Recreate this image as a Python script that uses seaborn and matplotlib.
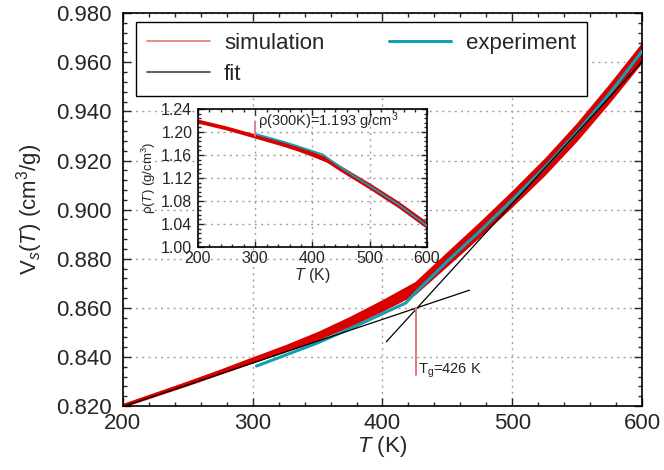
import matplotlib
matplotlib.use("Agg")
import matplotlib.pyplot as plt
import seaborn as sns
import pandas as pd
from matplotlib.lines import Line2D
from matplotlib.ticker import MultipleLocator, FormatStrFormatter

sns.set_style("ticks")
plt.rcParams["font.family"] = ["Liberation Sans", "DejaVu Sans"]
plt.rcParams["mathtext.fontset"] = "custom"
plt.rcParams["mathtext.rm"] = "Liberation Sans"
plt.rcParams["mathtext.it"] = "Liberation Sans:italic"

# ── data ──────────────────────────────────────────────────────────────────────
T_sim = [200, 225, 250, 275, 300, 325, 350, 375, 400, 425, 450, 475, 500, 525, 550, 575, 600]
V_sim = [0.8203, 0.8248, 0.8293, 0.8340, 0.8388, 0.8435, 0.8486, 0.8545, 0.8610,
         0.8680, 0.8800, 0.8920, 0.9045, 0.9175, 0.9318, 0.9475, 0.9640]
V_spread = [0.0008, 0.0009, 0.0010, 0.0011, 0.0013, 0.0015, 0.0018, 0.0021, 0.0024,
            0.0027, 0.0030, 0.0032, 0.0034, 0.0036, 0.0038, 0.0040, 0.0042]

T_exp = [303, 325, 350, 375, 400, 418, 425, 450, 475, 500, 525, 550, 575, 600]
V_exp = [0.8363, 0.8407, 0.8457, 0.8515, 0.8576, 0.8620, 0.8660, 0.8790, 0.8912,
         0.9040, 0.9172, 0.9316, 0.9473, 0.9645]

fit_lo_T = [200, 467]
fit_lo_V = [0.8198, 0.8672]
fit_hi_T = [403, 600]
fit_hi_V = [0.8462, 0.9603]

Tg = 426
Tg_V = [0.8598, 0.8326]

rho_sim = [1.219, 1.213, 1.207, 1.200, 1.193, 1.186, 1.179, 1.171, 1.162,
           1.152, 1.136, 1.121, 1.106, 1.090, 1.074, 1.056, 1.038]
rho_spread = [0.0035, 0.0035, 0.0035, 0.0035, 0.0037, 0.0039, 0.0041, 0.0043, 0.0045,
              0.0047, 0.005, 0.0052, 0.0054, 0.0056, 0.0058, 0.006, 0.006]
T_rho_exp = [303, 350, 400, 418, 450, 500, 550, 600]
rho_exp = [1.196, 1.183, 1.167, 1.161, 1.138, 1.106, 1.074, 1.037]
rho300 = [1.193, 1.218]

RED = "#d90000"
RED_LIGHT = "#e97777"
CYAN = "#0fa0b4"

sim = pd.DataFrame({"T": T_sim, "V": V_sim, "dV": V_spread,
                    "rho": rho_sim, "drho": rho_spread})
exp = pd.DataFrame({"T": T_exp, "V": V_exp})
exp_rho = pd.DataFrame({"T": T_rho_exp, "rho": rho_exp})


def style_axes(ax, size, major_len, minor_len):
    ax.tick_params(which="both", direction="in", top=True, right=True,
                   labelsize=size, width=1)
    ax.tick_params(which="major", length=major_len)
    ax.tick_params(which="minor", length=minor_len)
    ax.grid(True, which="major", color="#a0a0a0", ls=(0, (1.5, 3)), lw=1)
    for s in ax.spines.values():
        s.set_color("black")
        s.set_linewidth(1.2)


fig = plt.figure(figsize=(6.64, 4.70), dpi=100)
ax = fig.add_axes([0.185, 0.136, 0.782, 0.836])

ax.fill_between(sim["T"], sim["V"] - sim["dV"], sim["V"] + sim["dV"],
                color=RED, lw=0, zorder=2)
sns.lineplot(data=sim, x="T", y="V", ax=ax, color=RED, lw=1.5, zorder=2)
sns.lineplot(data=exp, x="T", y="V", ax=ax, color=CYAN, lw=2.2, zorder=3)
ax.plot(fit_lo_T, fit_lo_V, color="black", lw=0.9, zorder=4)
ax.plot(fit_hi_T, fit_hi_V, color="black", lw=0.9, zorder=4)
ax.plot([Tg, Tg], Tg_V, color=RED_LIGHT, lw=1.4, zorder=4)
ax.text(Tg + 1, Tg_V[1] + 0.0006, r"T$_{\rm g}$=426 K", fontsize=10.5,
        va="baseline", ha="left")

ax.set_xlim(200, 600)
ax.set_ylim(0.82, 0.98)
ax.xaxis.set_major_locator(MultipleLocator(100))
ax.xaxis.set_minor_locator(MultipleLocator(20))
ax.yaxis.set_major_locator(MultipleLocator(0.02))
ax.yaxis.set_minor_locator(MultipleLocator(0.004))
ax.yaxis.set_major_formatter(FormatStrFormatter("%.3f"))
style_axes(ax, 16, 6, 3)
ax.tick_params(axis="x", pad=5)
ax.tick_params(axis="y", pad=8)
ax.set_xlabel(r"$\it{T}$ (K)", fontsize=16, labelpad=0)
ax.set_ylabel(r"V$_s$($\it{T}$) (cm$^3$/g)", fontsize=16, labelpad=8)

handles = [Line2D([], [], color=RED_LIGHT, lw=1.2),
           Line2D([], [], color="#444444", lw=1.2),
           Line2D([], [], color=CYAN, lw=2.2)]
labels = ["simulation", "fit", "experiment"]
leg = ax.legend(handles, labels, ncol=2, loc="upper left",
                bbox_to_anchor=(0.026, 0.978), fontsize=16, frameon=True,
                fancybox=False, edgecolor="black", framealpha=1,
                handlelength=2.8, handletextpad=0.65, columnspacing=2.9,
                labelspacing=0.45, borderpad=0.5, borderaxespad=0)
leg.get_frame().set_linewidth(1.0)

# ── inset: density ────────────────────────────────────────────────────────────
ins = fig.add_axes([0.298, 0.4745, 0.345, 0.2935])
ins.set_facecolor("white")
ins.fill_between(sim["T"], sim["rho"] - sim["drho"], sim["rho"] + sim["drho"],
                 color=RED, lw=0, zorder=2)
sns.lineplot(data=sim, x="T", y="rho", ax=ins, color=RED, lw=1.2, zorder=2)
sns.lineplot(data=exp_rho, x="T", y="rho", ax=ins, color=CYAN, lw=1.3, zorder=3)
ins.plot([300, 300], rho300, color=RED_LIGHT, lw=1.3, zorder=4)
ins.text(305, 1.2, "ρ(300K)=1.193 g/cm$^3$", fontsize=10.5, va="bottom",
         ha="left")
ins.set_xlim(200, 600)
ins.set_ylim(1.0, 1.24)
ins.xaxis.set_major_locator(MultipleLocator(100))
ins.xaxis.set_minor_locator(MultipleLocator(20))
ins.yaxis.set_major_locator(MultipleLocator(0.04))
ins.yaxis.set_minor_locator(MultipleLocator(0.008))
ins.yaxis.set_major_formatter(FormatStrFormatter("%.2f"))
style_axes(ins, 11.5, 4, 2)
ins.tick_params(axis="x", pad=3)
ins.tick_params(axis="y", pad=4)
ins.set_xlabel(r"$\it{T}$ (K)", fontsize=11.5, labelpad=0)
ins.set_ylabel(r"ρ($\it{T}$) (g/cm$^3$)", fontsize=9.5, labelpad=2)

fig.savefig("out.png", dpi=100)
